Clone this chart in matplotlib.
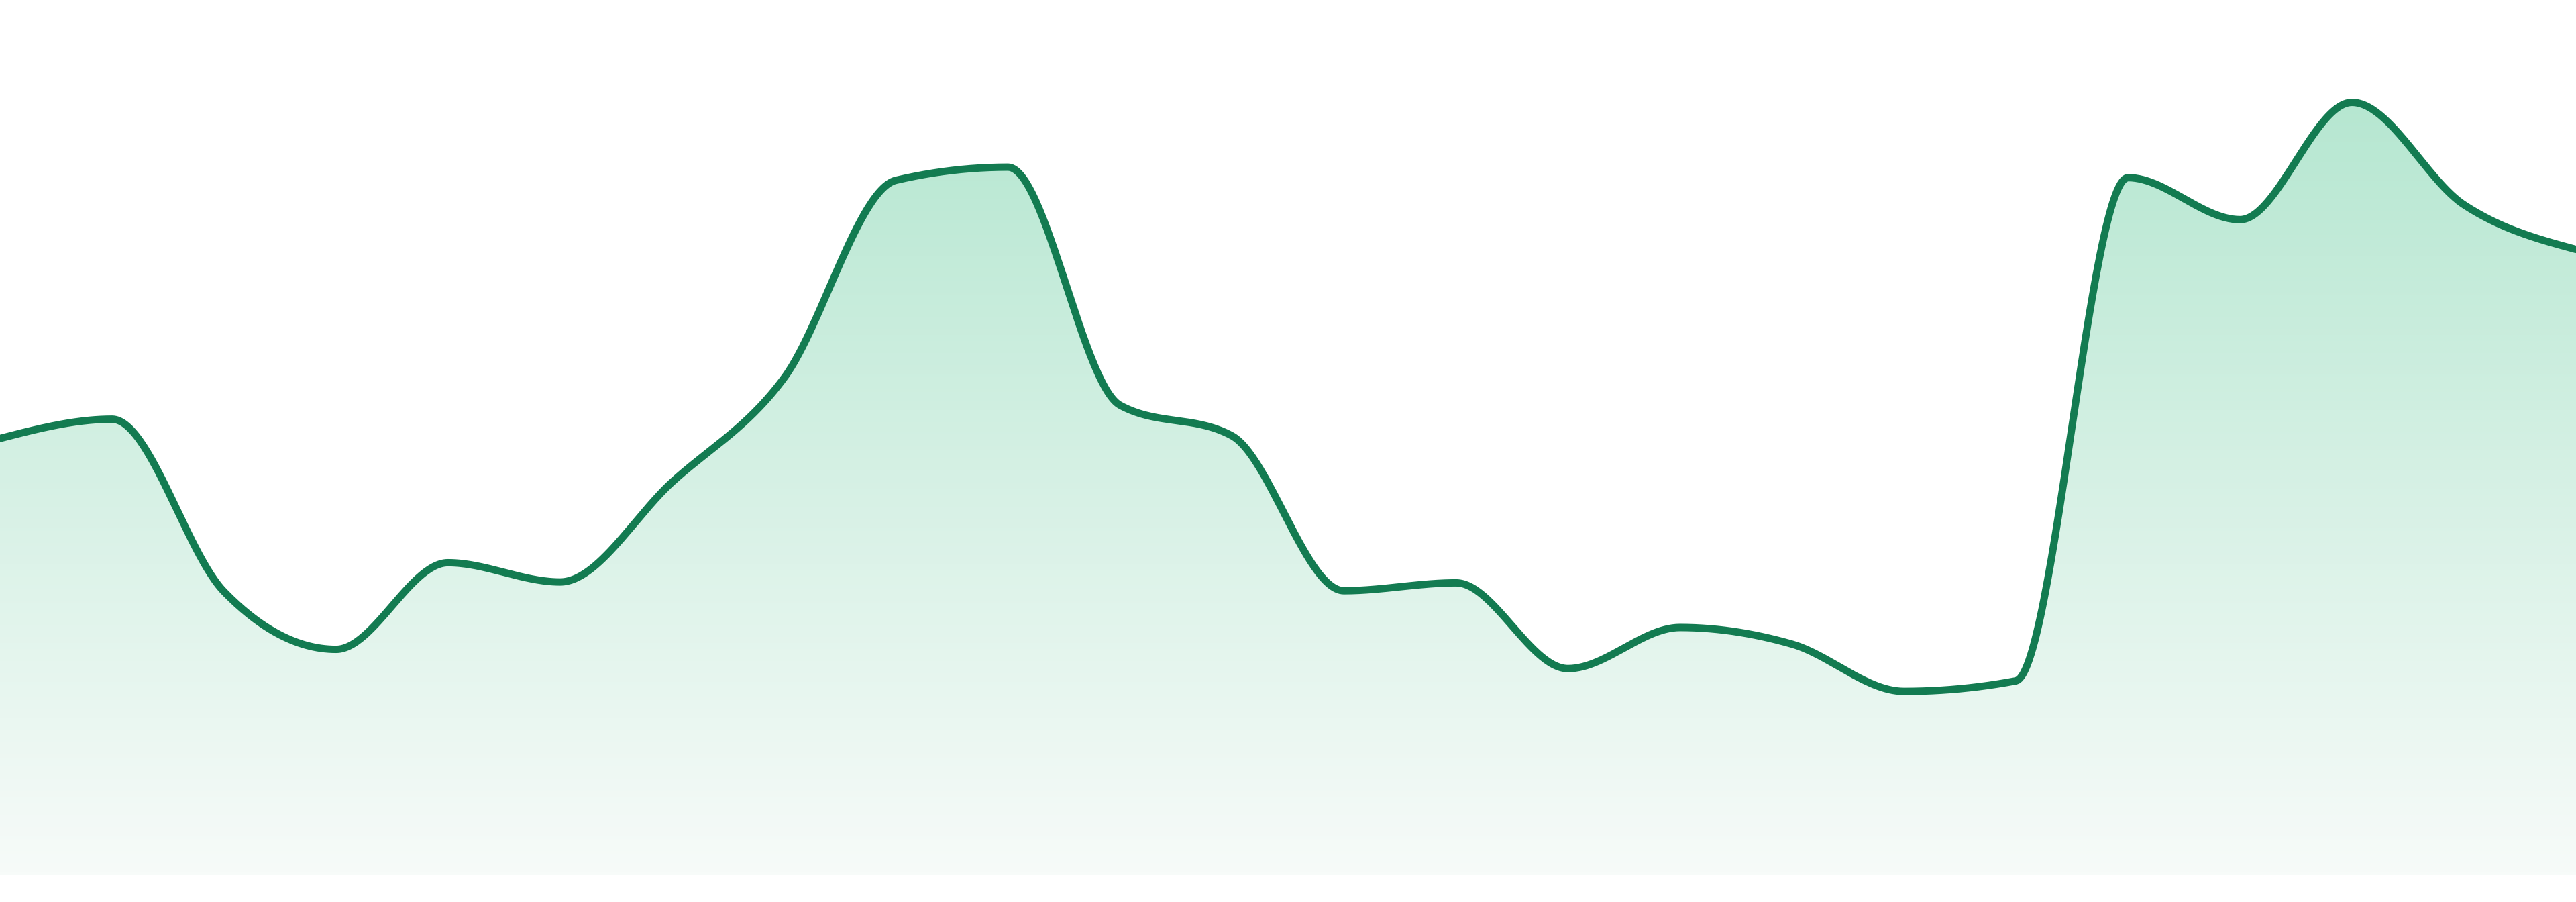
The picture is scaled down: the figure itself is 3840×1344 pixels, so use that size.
import numpy as np
import matplotlib
matplotlib.use("Agg")
import matplotlib.pyplot as plt
from matplotlib.patches import Polygon
from matplotlib.colors import LinearSegmentedColormap

# values (arbitrary units, baseline 0)
values = [49.9, 52.1, 32.4, 25.8, 35.7, 33.5, 44.9, 56.8, 79.4, 80.9, 53.7, 50.2,
          32.5, 33.4, 23.6, 28.3, 26.4, 21.0, 22.2, 79.7, 74.9, 88.3, 76.6, 71.5]
line_color = "#137b51"
fill_top = "#b6e7d1"
fill_bottom = "#f7fbf9"


def monotone_x(x, y, n=60):
    # same idea as d3.curveMonotoneX
    x = np.asarray(x, float)
    y = np.asarray(y, float)
    h = np.diff(x)
    s = np.diff(y) / h
    t = np.zeros_like(y)
    for i in range(1, len(y) - 1):
        h0, h1 = h[i - 1], h[i]
        s0, s1 = s[i - 1], s[i]
        p = (s0 * h1 + s1 * h0) / (h0 + h1)
        t[i] = (np.sign(s0) + np.sign(s1)) * min(abs(s0), abs(s1), 0.5 * abs(p))
    t[0] = (3 * s[0] - t[1]) / 2
    t[-1] = (3 * s[-1] - t[-2]) / 2
    xs, ys = [], []
    for i in range(len(y) - 1):
        u = np.linspace(0, 1, n, endpoint=(i == len(y) - 2))
        h00 = 2 * u**3 - 3 * u**2 + 1
        h10 = u**3 - 2 * u**2 + u
        h01 = -2 * u**3 + 3 * u**2
        h11 = u**3 - u**2
        xs.append(x[i] + u * h[i])
        ys.append(h00 * y[i] + h10 * h[i] * t[i] + h01 * y[i + 1] + h11 * h[i] * t[i + 1])
    return np.concatenate(xs), np.concatenate(ys)


x = np.arange(len(values))
xs, ys = monotone_x(x, values)

fig = plt.figure(figsize=(38.4, 13.44), dpi=100)
ax = fig.add_axes([0, 0, 1, 1])
ax.axis("off")

# gradient fill under the curve
top = max(values)
cmap = LinearSegmentedColormap.from_list("fade", [fill_bottom, fill_top])
grad = np.linspace(0, 1, 256).reshape(-1, 1)
img = ax.imshow(grad, cmap=cmap, aspect="auto", origin="lower",
                extent=[0, len(values) - 1, 0, top], zorder=1)
poly = Polygon(np.column_stack([np.r_[xs, xs[-1], xs[0]], np.r_[ys, 0, 0]]),
               closed=True, facecolor="none", edgecolor="none")
ax.add_patch(poly)
img.set_clip_path(poly)

ax.plot(xs, ys, color=line_color, lw=7.9, solid_capstyle="round",
        solid_joinstyle="round", zorder=3)
ax.set_xlim(0, len(values) - 1)
ax.set_ylim(-3.07, 100)

fig.savefig("out.png", dpi=100, facecolor="white")
